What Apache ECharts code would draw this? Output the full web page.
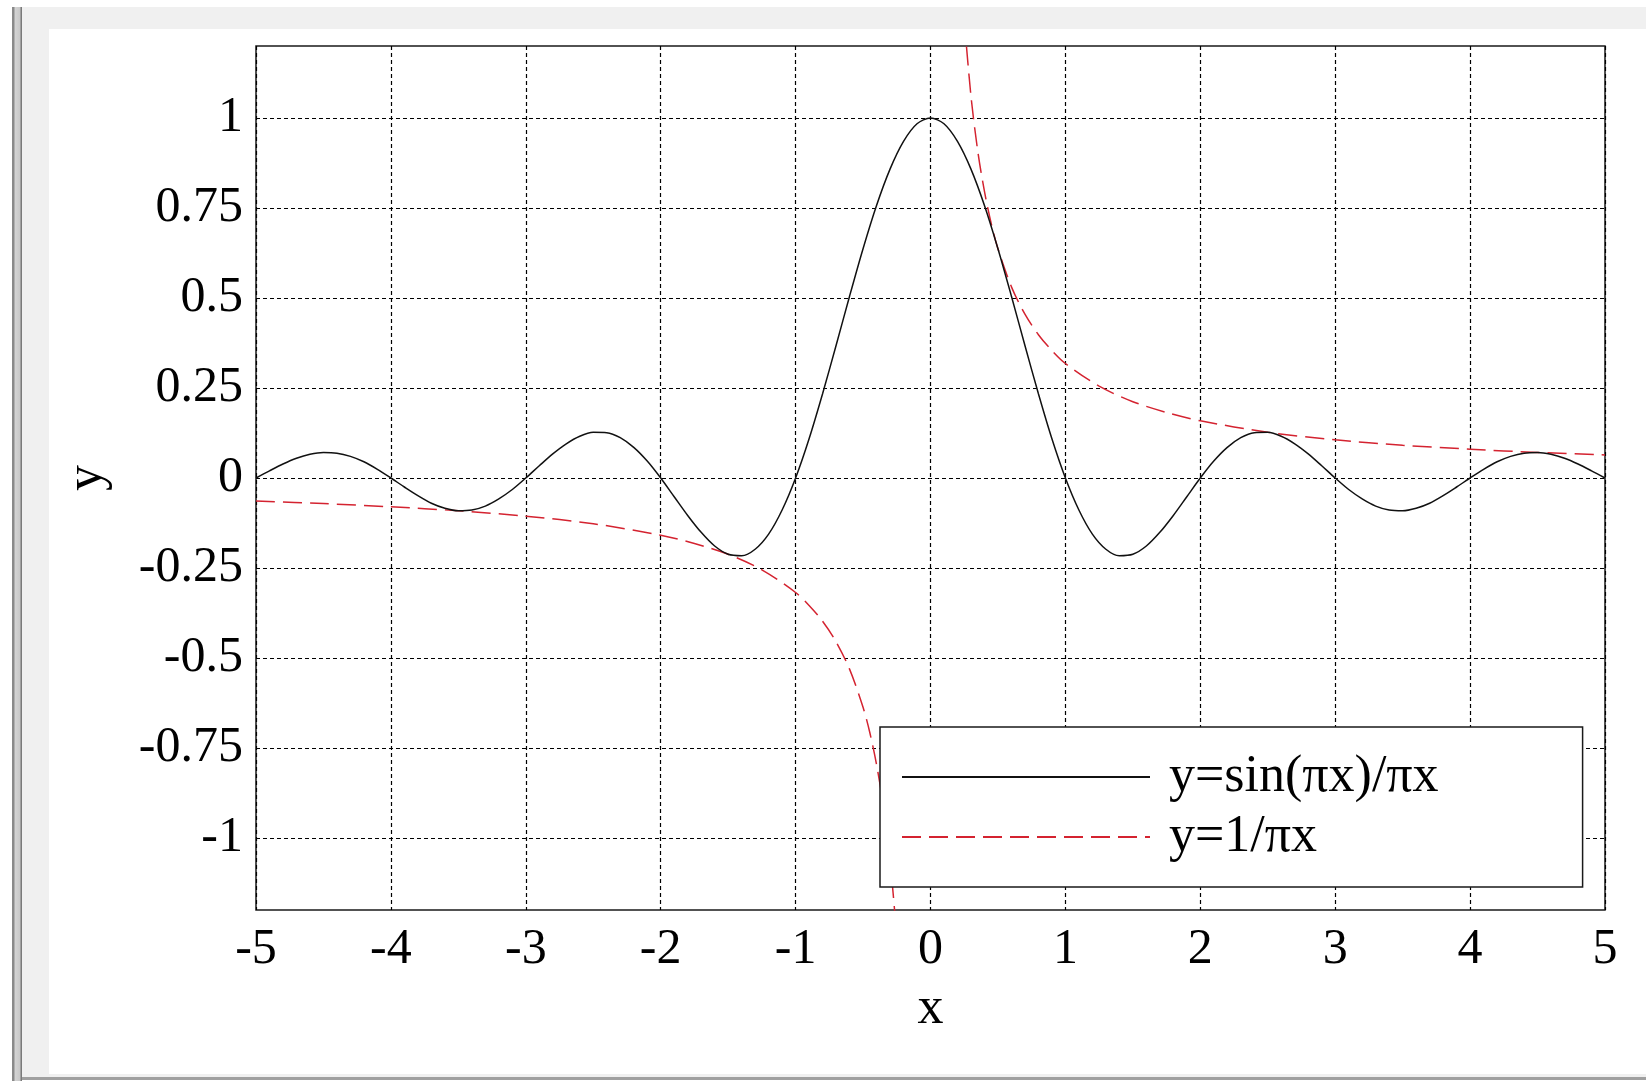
<!DOCTYPE html>
<html>
<head>
<meta charset="utf-8">
<title>sinc</title>
<script src="https://cdn.jsdelivr.net/npm/echarts@6/dist/echarts.min.js"></script>
<style>
  body { margin: 0; background: #fff; width: 1646px; height: 1081px; overflow: hidden; }
  .win-edge { position: absolute; left: 12px; top: 7px; width: 10px; height: 1074px;
    background: linear-gradient(to right, #8a8a8a 0, #8a8a8a 2px, #d4d4d4 3px, #c8c8c8 8px, #7a7a7a 9px, #7a7a7a 10px); }
  .win-bg { position: absolute; left: 22px; top: 7px; width: 1624px; height: 1070px; background: #f0f0f0;
    border-bottom: 3px solid #a0a0a0; }
  #chart { position: absolute; left: 49px; top: 29px; width: 1597px; height: 1045px; background: #fff; }
</style>
</head>
<body>
<div class="win-edge"></div>
<div class="win-bg"></div>
<div id="chart"></div>
<script>
// x 取样点
var xValues = [-5.0, -4.9, -4.8, -4.7, -4.6, -4.5, -4.4, -4.3, -4.2, -4.1,
  -4.0, -3.9, -3.8, -3.7, -3.6, -3.5, -3.4, -3.3, -3.2, -3.1,
  -3.0, -2.9, -2.8, -2.7, -2.6, -2.5, -2.4, -2.3, -2.2, -2.1,
  -2.0, -1.9, -1.8, -1.7, -1.6, -1.5, -1.4, -1.3, -1.2, -1.1,
  -1.0, -0.9, -0.8, -0.7, -0.6, -0.5, -0.4, -0.3, -0.2, -0.1,
  0.0, 0.1, 0.2, 0.3, 0.4, 0.5, 0.6, 0.7, 0.8, 0.9,
  1.0, 1.1, 1.2, 1.3, 1.4, 1.5, 1.6, 1.7, 1.8, 1.9,
  2.0, 2.1, 2.2, 2.3, 2.4, 2.5, 2.6, 2.7, 2.8, 2.9,
  3.0, 3.1, 3.2, 3.3, 3.4, 3.5, 3.6, 3.7, 3.8, 3.9,
  4.0, 4.1, 4.2, 4.3, 4.4, 4.5, 4.6, 4.7, 4.8, 4.9, 5.0]

// y=sin(πx)/πx
var sincValues = [0, 0.020, 0.039, 0.055, 0.066, 0.071, 0.069, 0.060, 0.045, 0.024,
  0, -0.025, -0.049, -0.070, -0.084, -0.091, -0.089, -0.078, -0.058, -0.032,
  0, 0.034, 0.067, 0.095, 0.116, 0.127, 0.126, 0.112, 0.085, 0.047,
  0, -0.052, -0.104, -0.151, -0.189, -0.212, -0.216, -0.198, -0.156, -0.089,
  0, 0.109, 0.234, 0.368, 0.505, 0.637, 0.757, 0.858, 0.935, 0.984,
  1, 0.984, 0.935, 0.858, 0.757, 0.637, 0.505, 0.368, 0.234, 0.109,
  0, -0.089, -0.156, -0.198, -0.216, -0.212, -0.189, -0.151, -0.104, -0.052,
  0, 0.047, 0.085, 0.112, 0.126, 0.127, 0.116, 0.095, 0.067, 0.034,
  0, -0.032, -0.058, -0.078, -0.089, -0.091, -0.084, -0.070, -0.049, -0.025,
  0, 0.024, 0.045, 0.060, 0.069, 0.071, 0.066, 0.055, 0.039, 0.020, 0]

// y=1/πx 左右两支
var recipLeftX = [-5, -4.5, -4, -3.5, -3, -2.5, -2, -1.75, -1.5, -1.25, -1, -0.9, -0.8, -0.7, -0.6, -0.5, -0.45, -0.4, -0.35, -0.3, -0.25]
var recipLeftY = [-0.064, -0.071, -0.080, -0.091, -0.106, -0.127, -0.159, -0.182, -0.212, -0.255, -0.318, -0.354, -0.398, -0.455, -0.531, -0.637, -0.707, -0.796, -0.909, -1.061, -1.273]
var recipRightX = [0.25, 0.3, 0.35, 0.4, 0.45, 0.5, 0.6, 0.7, 0.8, 0.9, 1, 1.25, 1.5, 1.75, 2, 2.5, 3, 3.5, 4, 4.5, 5]
var recipRightY = [1.273, 1.061, 0.909, 0.796, 0.707, 0.637, 0.531, 0.455, 0.398, 0.354, 0.318, 0.255, 0.212, 0.182, 0.159, 0.127, 0.106, 0.091, 0.080, 0.071, 0.064]

// 刻度
var yTicks = [-1, -0.75, -0.5, -0.25, 0, 0.25, 0.5, 0.75, 1]

var seriesNames = ['y=sin(πx)/πx', 'y=1/πx']

function zip(xs, ys) {
  return xs.map(function (x, i) { return [x, ys[i]] })
}

var font = 'Liberation Serif, Times New Roman, serif'
var red = '#d42330'
var gridLine = { color: '#000', width: 1.2, type: [4, 3] }

var myChart = echarts.init(document.getElementById('chart'))

var option = {
  animation: false,
  textStyle: { fontFamily: font },
  grid: {
    left: 207,
    right: 41,
    top: 17,
    bottom: 164,
    show: true,
    borderColor: '#1a1a1a',
    borderWidth: 1.5,
    backgroundColor: 'transparent'
  },
  // 图例
  legend: {
    orient: 'vertical',
    left: 831,
    top: 698,
    data: seriesNames,
    backgroundColor: '#fff',
    borderColor: '#1a1a1a',
    borderWidth: 1.5,
    borderRadius: 0,
    padding: [22, 144, 22, 21],
    itemWidth: 248,
    itemHeight: 1,
    itemGap: 4,
    textStyle: {
      fontFamily: font,
      fontSize: 52,
      color: '#000',
      lineHeight: 56,
      padding: [0, 0, 0, 14]
    }
  },
  xAxis: {
    type: 'value',
    min: -5,
    max: 5,
    interval: 1,
    name: 'x',
    nameLocation: 'middle',
    nameGap: 73,
    nameTextStyle: { fontFamily: font, fontSize: 52, color: '#000' },
    axisLine: { show: false },
    axisTick: { show: false },
    axisLabel: { fontFamily: font, fontSize: 50, color: '#000', margin: 15 },
    splitLine: { show: true, lineStyle: gridLine }
  },
  yAxis: {
    type: 'value',
    min: -1.2,
    max: 1.2,
    name: 'y',
    nameLocation: 'middle',
    nameGap: 143,
    nameTextStyle: { fontFamily: font, fontSize: 52, color: '#000' },
    axisLine: { show: false },
    axisTick: { show: false, customValues: yTicks },
    axisLabel: { fontFamily: font, fontSize: 50, color: '#000', margin: 13, customValues: yTicks },
    splitLine: { show: true, lineStyle: gridLine }
  },
  series: [
    {
      name: seriesNames[0],
      type: 'line',
      data: zip(xValues, sincValues),
      symbol: 'none',
      smooth: 0.3,
      lineStyle: { color: '#111', width: 1.5 },
      itemStyle: { color: '#111' },
      z: 3
    },
    {
      name: seriesNames[1],
      type: 'line',
      data: zip(recipLeftX, recipLeftY),
      symbol: 'none',
      smooth: 0.3,
      clip: true,
      lineStyle: { color: red, width: 1.5, type: [19, 8] },
      itemStyle: { color: red },
      z: 2
    },
    {
      name: seriesNames[1],
      type: 'line',
      data: zip(recipRightX, recipRightY),
      symbol: 'none',
      smooth: 0.3,
      clip: true,
      lineStyle: { color: red, width: 1.5, type: [19, 8] },
      itemStyle: { color: red },
      z: 2
    }
  ]
}

myChart.setOption(option)
window.addEventListener('resize', function () { myChart.resize() })
</script>
</body>
</html>
